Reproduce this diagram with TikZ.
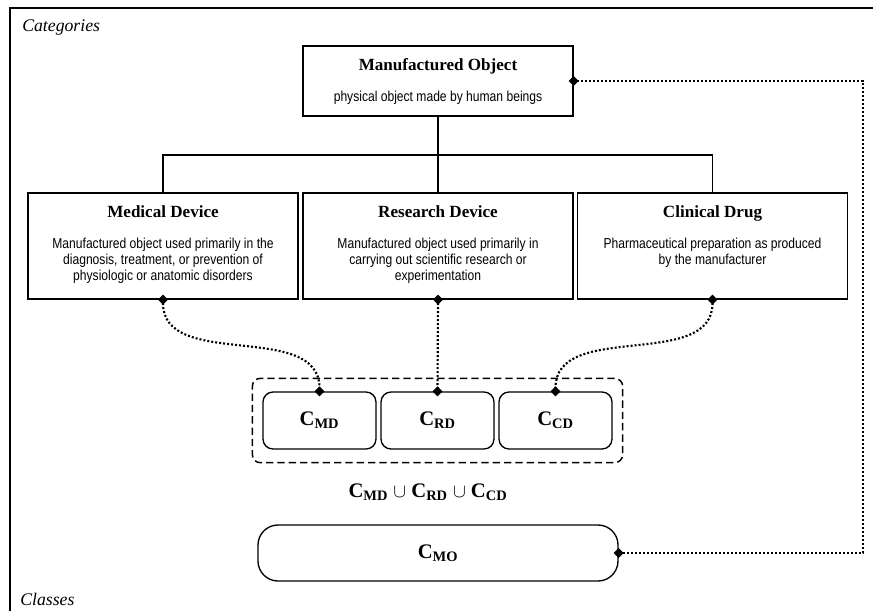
\documentclass[tikz,border=0pt]{standalone}
\usepackage{fontspec}
\setmainfont{Liberation Serif}
\newfontfamily\descfont{Liberation Sans}[FakeStretch=0.84]
\usetikzlibrary{arrows.meta,fit}

% text of a category box: height, title, description
\newcommand{\catbody}[3]{\parbox[c][#1][t]{202.5pt}{\centering\vspace*{9.3pt}%
  {\bfseries\fontsize{12.8}{14}\selectfont #2\par}\vspace{11.6pt}%
  {\descfont\fontsize{10.8}{12}\selectfont #3\par}}}
\newcommand{\clsname}[1]{{\fontsize{15.5}{18}\selectfont\bfseries C\textsubscript{#1}}}

\tikzset{
  catbox/.style={draw, line width=1pt, inner sep=0pt},
  clsbox/.style={draw, line width=1pt, rounded corners=7.5pt, inner sep=0pt,
    minimum width=84.75pt, minimum height=42.75pt},
  grpbox/.style={draw, line width=1.1pt, dash pattern=on 5.5pt off 3pt, rounded corners=6pt},
  tree/.style={line width=1pt},
  link/.style={line width=1.6pt, dash pattern=on 1.5pt off 1.5pt,
    {Diamond[length=7.5pt,width=7.5pt]}-{Diamond[length=7.5pt,width=7.5pt]},
    shorten <=-3.75pt, shorten >=-3.75pt},
  tag/.style={anchor=west, inner sep=0pt, font=\itshape\fontsize{13.3}{15}\selectfont}
}

\begin{document}
\begin{tikzpicture}[x=0.75pt, y=-0.75pt]
  \clip (0,0) rectangle (873,610);
  \draw[line width=1.1pt] (10,640) |- (900,8); % frame
  \node[tag] (cattag) at (22,28) {Categories};
  \node[tag] (clstag) at (20,599) {Classes};

  % categories
  \node[catbox] (mo) at (438,81) {\catbody{52.5pt}{Manufactured Object}{physical object made by human beings}};
  \node[catbox] (md) at (163,246) {\catbody{79.5pt}{Medical Device}{Manufactured object used primarily in the\\ diagnosis, treatment, or prevention of\\ physiologic or anatomic disorders}};
  \node[catbox] (rd) at (438,246) {\catbody{79.5pt}{Research Device}{Manufactured object used primarily in\\ carrying out scientific research or\\ experimentation}};
  \node[catbox] (cd) at (712.5,246) {\catbody{79.5pt}{Clinical Drug}{Pharmaceutical preparation as produced\\ by the manufacturer}};
  \coordinate (bus) at (438,155);
  \draw[tree] (mo.south) -- (bus);
  \draw[tree] (md.north) |- (bus) -| (cd.north);
  \draw[tree] (bus) -- (rd.north);

  % classes
  \node[clsbox] (cmd) at (319.5,420.5) {\clsname{MD}};
  \node[clsbox] (crd) at (437.5,420.5) {\clsname{RD}};
  \node[clsbox] (ccd) at (555.5,420.5) {\clsname{CD}};
  \node[grpbox, fit=(cmd)(ccd), inner xsep=7.5pt, inner ysep=9.75pt] (grp) {};
  \node[font=\fontsize{15.5}{18}\selectfont] (union) at (428,492) {\clsname{MD} $\cup$ \clsname{RD} $\cup$ \clsname{CD}};
  \node[clsbox, minimum width=270pt, minimum height=42pt, rounded corners=15pt] (cmo) at (438,553) {\clsname{MO}};

  % links
  \coordinate (rim) at (863,300);
  \draw[link] (md.south) to[out=-90, in=90] (cmd.north);
  \draw[link] (rd.south) -- (crd.north);
  \draw[link] (cd.south) to[out=-90, in=90] (ccd.north);
  \draw[link] (mo.east) -- (mo.east -| rim) |- (cmo.east);
\end{tikzpicture}
\end{document}
